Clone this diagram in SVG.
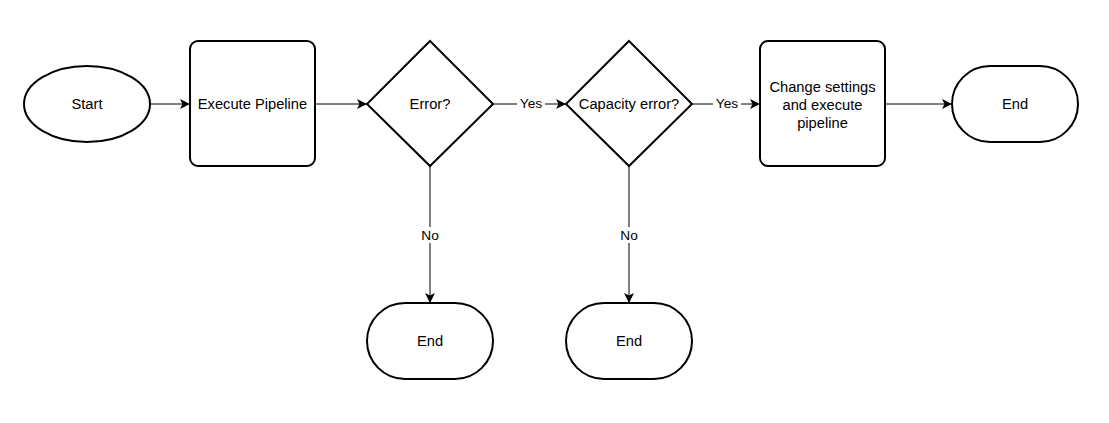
<svg xmlns="http://www.w3.org/2000/svg" width="1109" height="423" viewBox="0 0 1109 423">
<defs>
<style>
.node{fill:#fff;stroke:#000;stroke-width:2}
.edge{fill:none;stroke:#000;stroke-width:1}
.t{font-family:"Liberation Sans",Arial,sans-serif;font-size:14.7px;fill:#000;text-anchor:middle;dominant-baseline:central}
.lbl{font-family:"Liberation Sans",Arial,sans-serif;font-size:13.7px;fill:#000;text-anchor:middle;dominant-baseline:central}
.bg{fill:#fff}
</style>
<marker id="arr" viewBox="0 0 10 10" refX="9" refY="5" markerWidth="10" markerHeight="10" markerUnits="userSpaceOnUse" orient="auto">
<path d="M0,0 L10,5 L0,10 L2.5,5 Z" fill="#000"/>
</marker>
</defs>
<rect width="1109" height="423" fill="#fff"/>
<g id="connectors">
<line class="edge" x1="151" y1="104" x2="189" y2="104" marker-end="url(#arr)"/>
<line class="edge" x1="316" y1="104" x2="366" y2="104" marker-end="url(#arr)"/>
<line class="edge" x1="493" y1="104" x2="565" y2="104" marker-end="url(#arr)"/>
<line class="edge" x1="692" y1="104" x2="759" y2="104" marker-end="url(#arr)"/>
<line class="edge" x1="886" y1="104" x2="951" y2="104" marker-end="url(#arr)"/>
<line class="edge" x1="430" y1="166" x2="430" y2="302" marker-end="url(#arr)"/>
<line class="edge" x1="629" y1="166" x2="629" y2="302" marker-end="url(#arr)"/>
<rect class="bg" x="517" y="96" width="28" height="15"/>
<text class="lbl" x="531" y="103">Yes</text>
<rect class="bg" x="713" y="96" width="28" height="15"/>
<text class="lbl" x="727" y="103">Yes</text>
<rect class="bg" x="419" y="227" width="22" height="16"/>
<text class="lbl" x="430" y="235">No</text>
<rect class="bg" x="618" y="227" width="22" height="16"/>
<text class="lbl" x="629" y="235">No</text>
</g>
<g id="start">
<ellipse class="node" cx="87" cy="104" rx="63" ry="38"/>
<text class="t" x="87" y="104">Start</text>
</g>
<g id="execute">
<rect class="node" x="190" y="41" width="125" height="125" rx="8"/>
<text class="t" x="252.5" y="104">Execute Pipeline</text>
</g>
<g id="error">
<polygon class="node" points="430,41 493,104 430,166 367,104"/>
<text class="t" x="430" y="104">Error?</text>
</g>
<g id="capacity">
<polygon class="node" points="629,41 692,104 629,166 566,104"/>
<text class="t" x="629" y="104">Capacity error?</text>
</g>
<g id="change">
<rect class="node" x="760" y="41" width="125" height="125" rx="8"/>
<text class="t" x="822.5" y="87">Change settings</text>
<text class="t" x="822.5" y="105">and execute</text>
<text class="t" x="822.5" y="123">pipeline</text>
</g>
<g id="end1">
<rect class="node" x="952" y="66" width="126" height="76" rx="38"/>
<text class="t" x="1015" y="104">End</text>
</g>
<g id="end2">
<rect class="node" x="367" y="303" width="126" height="76" rx="38"/>
<text class="t" x="430" y="341">End</text>
</g>
<g id="end3">
<rect class="node" x="566" y="303" width="126" height="76" rx="38"/>
<text class="t" x="629" y="341">End</text>
</g>
</svg>
